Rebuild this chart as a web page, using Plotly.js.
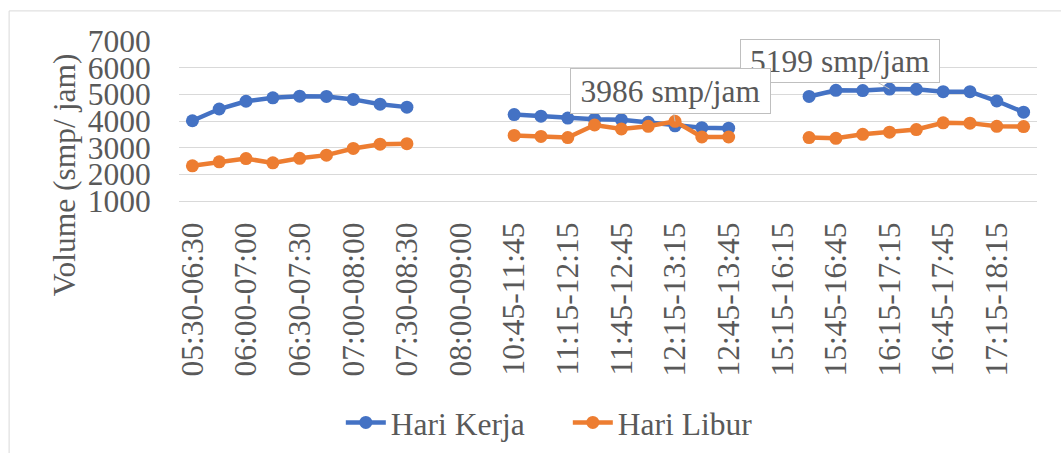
<!DOCTYPE html>
<html>
<head>
<meta charset="utf-8">
<script src="https://cdn.plot.ly/plotly-3.0.1.min.js"></script>
<style>html,body{margin:0;padding:0;background:#fff;}#chart{width:1061px;height:453px;}</style>
</head>
<body>
<div id="chart"></div>
<script>
const categories = [
  "05:30-06:30","05:45-06:45","06:00-07:00","06:15-07:15","06:30-07:30","06:45-07:45",
  "07:00-08:00","07:15-08:15","07:30-08:30","07:45-08:45","08:00-09:00","10:30-11:30",
  "10:45-11:45","11:00-12:00","11:15-12:15","11:30-12:30","11:45-12:45","12:00-13:00",
  "12:15-13:15","12:30-13:30","12:45-13:45","15:00-16:00","15:15-16:15","15:30-16:30",
  "15:45-16:45","16:00-17:00","16:15-17:15","16:30-17:30","16:45-17:45","17:00-18:00",
  "17:15-18:15","17:30-18:30"
];
const hariKerja = [
  4010,4450,4740,4870,4930,4920,4810,4630,4520,null,null,null,
  4240,4180,4110,4070,4050,3950,3820,3750,3730,null,null,
  4920,5150,5140,5199,5190,5100,5100,4750,4330
];
const hariLibur = [
  2320,2470,2590,2430,2600,2720,2970,3130,3150,null,null,null,
  3460,3420,3380,3850,3700,3800,3986,3400,3400,null,null,
  3380,3350,3500,3580,3680,3930,3920,3800,3790
];
const seriesNames = ["Hari Kerja","Hari Libur"];
const tickLabels = categories.filter((c,i)=>i%2===0);
const yTitle = "Volume (smp/ jam)";
const calloutLibur = {cat: "12:15-13:15", value: 3986, text: "3986 smp/jam"};
const calloutKerja = {cat: "16:15-17:15", value: 5199, text: "5199 smp/jam"};

const FONT = 'Liberation Serif, Times New Roman, serif';
const GRAY = '#595959';
const FS = 31.5;

const traces = [
  {x: categories, y: hariKerja, name: seriesNames[0], type: 'scatter', mode: 'lines+markers',
   line: {color: '#4472C4', width: 4.5}, marker: {color: '#4472C4', size: 13}, connectgaps: false},
  {x: categories, y: hariLibur, name: seriesNames[1], type: 'scatter', mode: 'lines+markers',
   line: {color: '#ED7D31', width: 4.5}, marker: {color: '#ED7D31', size: 13}, connectgaps: false}
];

const layout = {
  width: 1061, height: 453,
  margin: {l: 179, r: 24, t: 41, b: 252, pad: 0, autoexpand: false},
  paper_bgcolor: '#fff', plot_bgcolor: '#fff',
  font: {family: FONT, size: FS, color: GRAY},
  showlegend: true,
  legend: {orientation: 'h', x: 0.1886, xanchor: 'left', y: -1.384, yanchor: 'middle',
           font: {family: FONT, size: FS, color: GRAY}, bgcolor: 'rgba(0,0,0,0)',
           itemwidth: 40, entrywidth: 172, entrywidthmode: 'pixels', traceorder: 'normal'},
  xaxis: {type: 'category', categoryorder: 'array', categoryarray: categories,
          range: [-0.5, categories.length - 0.5],
          tickmode: 'array', tickvals: tickLabels, ticktext: tickLabels,
          tickangle: -90, showgrid: false, zeroline: false,
          showline: true, linecolor: '#d9d9d9', linewidth: 1,
          ticks: 'outside', ticklen: 8, tickcolor: 'rgba(0,0,0,0)',
          tickfont: {family: FONT, size: FS, color: GRAY}, automargin: false, fixedrange: true},
  yaxis: {range: [1000, 7000], tickmode: 'linear', tick0: 1000, dtick: 1000,
          showgrid: true, gridcolor: '#d9d9d9', gridwidth: 1, zeroline: false,
          showline: false, ticks: 'outside', ticklen: 21, tickcolor: 'rgba(0,0,0,0)',
          tickfont: {family: FONT, size: FS, color: GRAY}, automargin: false, fixedrange: true},
  shapes: [
    {type: 'rect', xref: 'paper', yref: 'paper', x0: -0.198, x1: 1.2, y0: -3, y1: 1.188,
     line: {color: '#d9d9d9', width: 1}, fillcolor: 'rgba(0,0,0,0)', layer: 'below'}
  ],
  annotations: [
    {xref: 'paper', yref: 'paper', x: -0.1333, y: 0.165, xanchor: 'center', yanchor: 'middle',
     text: yTitle, textangle: -90, showarrow: false, font: {family: FONT, size: FS, color: GRAY}},
    {x: calloutKerja.cat, y: calloutKerja.value, text: calloutKerja.text, showarrow: true,
     ax: -50, ay: -28, arrowhead: 0, arrowwidth: 1, arrowcolor: '#bfbfbf', standoff: 0,
     bgcolor: '#fff', bordercolor: '#bfbfbf', borderwidth: 1, borderpad: 2, width: 194, height: 38,
     font: {family: FONT, size: FS, color: GRAY}},
    {x: calloutLibur.cat, y: calloutLibur.value, text: calloutLibur.text, showarrow: true,
     ax: -5, ay: -30, arrowhead: 0, arrowwidth: 1, arrowcolor: '#bfbfbf', standoff: 0,
     bgcolor: '#fff', bordercolor: '#bfbfbf', borderwidth: 1, borderpad: 2, width: 195, height: 40,
     font: {family: FONT, size: FS, color: GRAY}}
  ]
};

Plotly.newPlot('chart', traces, layout, {displayModeBar: false, staticPlot: true});
</script>
</body>
</html>
